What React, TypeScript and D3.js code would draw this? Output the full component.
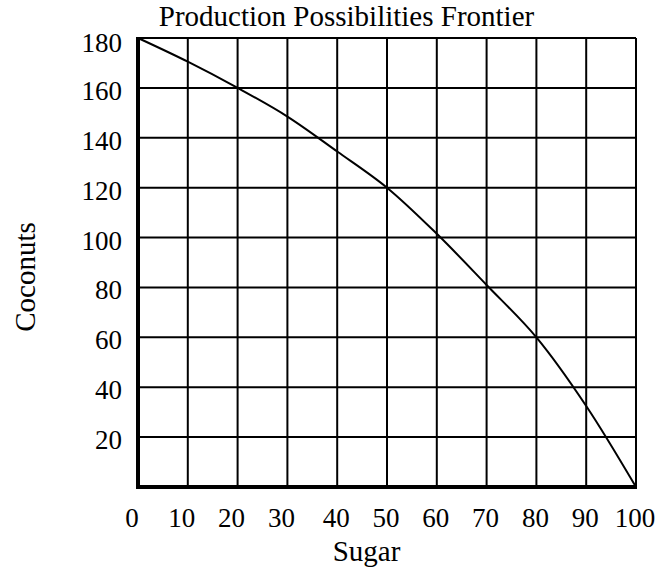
import React from 'react';
import * as d3 from 'd3';

// Production possibilities: sugar on x, coconuts on y
const sugar = [0, 10, 20, 30, 40, 50, 60, 70, 80, 90, 100];
const coconuts = [180, 170.5, 160, 148.5, 134.5, 120, 101.5, 81, 60, 32.5, 0];

const xTicks = [0, 10, 20, 30, 40, 50, 60, 70, 80, 90, 100];
const yTicks = [20, 40, 60, 80, 100, 120, 140, 160, 180];
const yGrid = [0, 20, 40, 60, 80, 100, 120, 140, 160, 180];

const W = 659;
const H = 569;
const FONT = '"Liberation Serif", "Times New Roman", serif';

const App = () => {
  const x = d3.scaleLinear().domain([0, 100]).range([138, 636]);
  const y = d3.scaleLinear().domain([0, 180]).range([487, 38]);

  const pts = sugar.map((s, i) => [s, coconuts[i]] as [number, number]);
  const line = d3
    .line<[number, number]>()
    .x(d => x(d[0]))
    .y(d => y(d[1]))
    .curve(d3.curveCatmullRom.alpha(0.5));

  return (
    <svg
      width={W}
      height={H}
      style={{ position: 'absolute', left: 0, top: 0, background: '#fff' }}
      fontFamily={FONT}
    >
      <rect x={0} y={0} width={W} height={H} fill="#fff" />

      {/* grid */}
      {xTicks.map(t => (
        <line key={'gx' + t} x1={x(t)} x2={x(t)} y1={y(0)} y2={y(180)} stroke="#000" strokeWidth={2} />
      ))}
      {yGrid.map(t => (
        <line key={'gy' + t} x1={x(0)} x2={x(100)} y1={y(t)} y2={y(t)} stroke="#000" strokeWidth={2} />
      ))}

      {/* thick axes */}
      <line x1={x(0)} x2={x(0)} y1={y(180) - 1} y2={y(0) + 2} stroke="#000" strokeWidth={4} />
      <line x1={x(0) - 2} x2={x(100) + 1} y1={y(0)} y2={y(0)} stroke="#000" strokeWidth={4} />

      {/* frontier */}
      <path d={line(pts) || ''} fill="none" stroke="#000" strokeWidth={2} />

      {/* y tick labels */}
      {yTicks.map(t => (
        <text key={'yl' + t} x={122} y={Math.max(y(t) + 12, 52)} textAnchor="end" fontSize={27} fill="#000">
          {t}
        </text>
      ))}

      {/* x tick labels */}
      {xTicks.map(t => (
        <text key={'xl' + t} x={x(t) + (t < 40 ? -6 : -1)} y={527} textAnchor="middle" fontSize={27} fill="#000">
          {t}
        </text>
      ))}

      <text x={346.5} y={26} textAnchor="middle" fontSize={29} fill="#000">
        Production Possibilities Frontier
      </text>
      <text x={366.5} y={561} textAnchor="middle" fontSize={29} fill="#000">
        Sugar
      </text>
      <text
        transform={`translate(35,277) rotate(-90)`}
        textAnchor="middle"
        fontSize={29}
        fill="#000"
      >
        Coconuts
      </text>
    </svg>
  );
};

export default App;
